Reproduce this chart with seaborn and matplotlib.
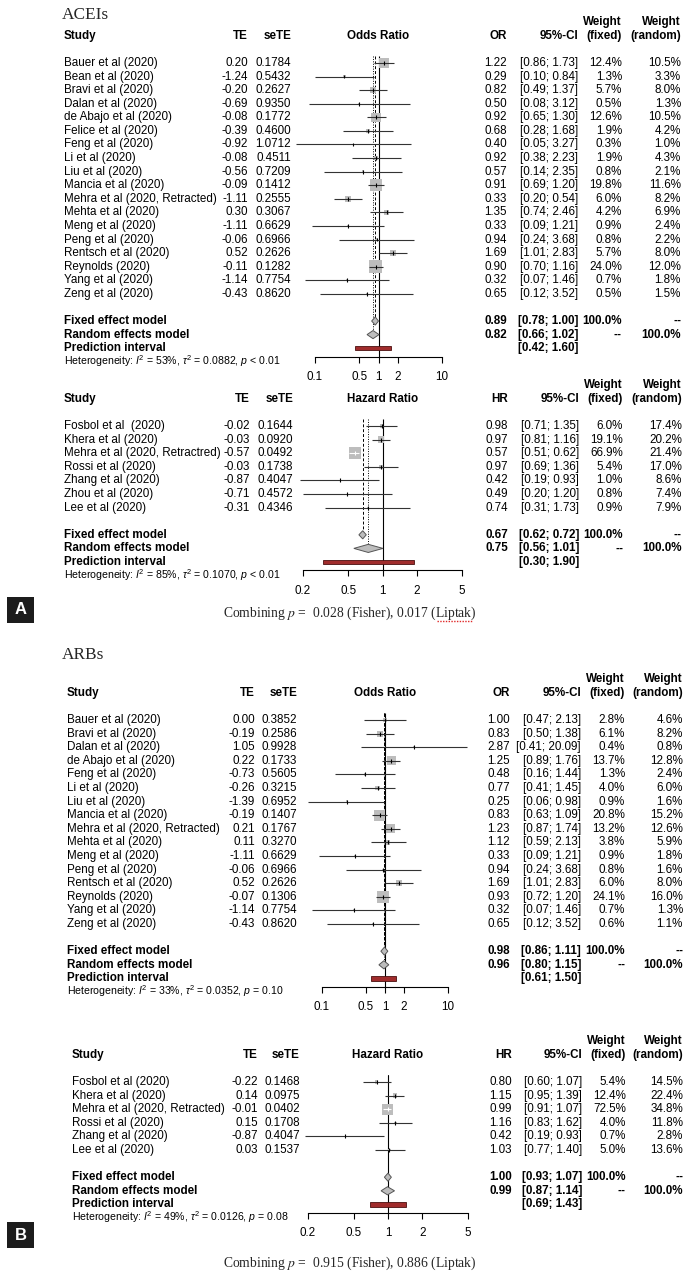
import matplotlib
matplotlib.use("Agg")
import matplotlib.pyplot as plt
import matplotlib.transforms as mtransforms
from matplotlib.patches import Rectangle
from matplotlib.lines import Line2D
from matplotlib.ticker import NullLocator
import numpy as np
import pandas as pd
import seaborn as sns

W, H = 691, 1280

# ---------------- ACEIs, odds ratio ----------------
acei_or_study = ["Bauer et al (2020)", "Bean et al (2020)", "Bravi et al (2020)", "Dalan et al (2020)",
                 "de Abajo et al (2020)", "Felice et al (2020)", "Feng et al (2020)", "Li et al (2020)",
                 "Liu et al (2020)", "Mancia et al (2020)", "Mehra et al (2020, Retracted)", "Mehta et al (2020)",
                 "Meng et al (2020)", "Peng et al (2020)", "Rentsch et al (2020)", "Reynolds (2020)",
                 "Yang et al (2020)", "Zeng et al (2020)"]
acei_or_te = [0.20, -1.24, -0.20, -0.69, -0.08, -0.39, -0.92, -0.08, -0.56, -0.09, -1.11, 0.30, -1.11, -0.06,
              0.52, -0.11, -1.14, -0.43]
acei_or_sete = [0.1784, 0.5432, 0.2627, 0.9350, 0.1772, 0.4600, 1.0712, 0.4511, 0.7209, 0.1412, 0.2555, 0.3067,
                0.6629, 0.6966, 0.2626, 0.1282, 0.7754, 0.8620]
acei_or_est = [1.22, 0.29, 0.82, 0.50, 0.92, 0.68, 0.40, 0.92, 0.57, 0.91, 0.33, 1.35, 0.33, 0.94, 1.69, 0.90,
               0.32, 0.65]
acei_or_lo = [0.86, 0.10, 0.49, 0.08, 0.65, 0.28, 0.05, 0.38, 0.14, 0.69, 0.20, 0.74, 0.09, 0.24, 1.01, 0.70,
              0.07, 0.12]
acei_or_hi = [1.73, 0.84, 1.37, 3.12, 1.30, 1.68, 3.27, 2.23, 2.35, 1.20, 0.54, 2.46, 1.21, 3.68, 2.83, 1.16,
              1.46, 3.52]
acei_or_wf = [12.4, 1.3, 5.7, 0.5, 12.6, 1.9, 0.3, 1.9, 0.8, 19.8, 6.0, 4.2, 0.9, 0.8, 5.7, 24.0, 0.7, 0.5]
acei_or_wr = [10.5, 3.3, 8.0, 1.3, 10.5, 4.2, 1.0, 4.3, 2.1, 11.6, 8.2, 6.9, 2.4, 2.2, 8.0, 12.0, 1.8, 1.5]
acei_or_fixed = [0.89, 0.78, 1.00]
acei_or_random = [0.82, 0.66, 1.02]
acei_or_pred = [0.42, 1.60]
acei_or_het = ["53", "0.0882", "< 0.01"]
or_ticks = [0.1, 0.5, 1, 2, 10]

# ---------------- ACEIs, hazard ratio ----------------
acei_hr_study = ["Fosbol et al  (2020)", "Khera et al (2020)", "Mehra et al (2020, Retractred)",
                 "Rossi et al (2020)", "Zhang et al (2020)", "Zhou et al (2020)", "Lee et al (2020)"]
acei_hr_te = [-0.02, -0.03, -0.57, -0.03, -0.87, -0.71, -0.31]
acei_hr_sete = [0.1644, 0.0920, 0.0492, 0.1738, 0.4047, 0.4572, 0.4346]
acei_hr_est = [0.98, 0.97, 0.57, 0.97, 0.42, 0.49, 0.74]
acei_hr_lo = [0.71, 0.81, 0.51, 0.69, 0.19, 0.20, 0.31]
acei_hr_hi = [1.35, 1.16, 0.62, 1.36, 0.93, 1.20, 1.73]
acei_hr_wf = [6.0, 19.1, 66.9, 5.4, 1.0, 0.8, 0.9]
acei_hr_wr = [17.4, 20.2, 21.4, 17.0, 8.6, 7.4, 7.9]
acei_hr_fixed = [0.67, 0.62, 0.72]
acei_hr_random = [0.75, 0.56, 1.01]
acei_hr_pred = [0.30, 1.90]
acei_hr_het = ["85", "0.1070", "< 0.01"]
hr_ticks = [0.2, 0.5, 1, 2, 5]
acei_combining = ["0.028", "0.017"]

# ---------------- ARBs, odds ratio ----------------
arb_or_study = ["Bauer et al (2020)", "Bravi et al (2020)", "Dalan et al (2020)", "de Abajo et al (2020)",
                "Feng et al (2020)", "Li et al (2020)", "Liu et al (2020)", "Mancia et al (2020)",
                "Mehra et al (2020, Retracted)", "Mehta et al (2020)", "Meng et al (2020)", "Peng et al (2020)",
                "Rentsch et al (2020)", "Reynolds (2020)", "Yang et al (2020)", "Zeng et al (2020)"]
arb_or_te = [0.00, -0.19, 1.05, 0.22, -0.73, -0.26, -1.39, -0.19, 0.21, 0.11, -1.11, -0.06, 0.52, -0.07,
             -1.14, -0.43]
arb_or_sete = [0.3852, 0.2586, 0.9928, 0.1733, 0.5605, 0.3215, 0.6952, 0.1407, 0.1767, 0.3270, 0.6629, 0.6966,
               0.2626, 0.1306, 0.7754, 0.8620]
arb_or_est = [1.00, 0.83, 2.87, 1.25, 0.48, 0.77, 0.25, 0.83, 1.23, 1.12, 0.33, 0.94, 1.69, 0.93, 0.32, 0.65]
arb_or_lo = [0.47, 0.50, 0.41, 0.89, 0.16, 0.41, 0.06, 0.63, 0.87, 0.59, 0.09, 0.24, 1.01, 0.72, 0.07, 0.12]
arb_or_hi = [2.13, 1.38, 20.09, 1.76, 1.44, 1.45, 0.98, 1.09, 1.74, 2.13, 1.21, 3.68, 2.83, 1.20, 1.46, 3.52]
arb_or_wf = [2.8, 6.1, 0.4, 13.7, 1.3, 4.0, 0.9, 20.8, 13.2, 3.8, 0.9, 0.8, 6.0, 24.1, 0.7, 0.6]
arb_or_wr = [4.6, 8.2, 0.8, 12.8, 2.4, 6.0, 1.6, 15.2, 12.6, 5.9, 1.8, 1.6, 8.0, 16.0, 1.3, 1.1]
arb_or_fixed = [0.98, 0.86, 1.11]
arb_or_random = [0.96, 0.80, 1.15]
arb_or_pred = [0.61, 1.50]
arb_or_het = ["33", "0.0352", "= 0.10"]

# ---------------- ARBs, hazard ratio ----------------
arb_hr_study = ["Fosbol et al (2020)", "Khera et al (2020)", "Mehra et al (2020, Retracted)",
                "Rossi et al (2020)", "Zhang et al (2020)", "Lee et al (2020)"]
arb_hr_te = [-0.22, 0.14, -0.01, 0.15, -0.87, 0.03]
arb_hr_sete = [0.1468, 0.0975, 0.0402, 0.1708, 0.4047, 0.1537]
arb_hr_est = [0.80, 1.15, 0.99, 1.16, 0.42, 1.03]
arb_hr_lo = [0.60, 0.95, 0.91, 0.83, 0.19, 0.77]
arb_hr_hi = [1.07, 1.39, 1.07, 1.62, 0.93, 1.40]
arb_hr_wf = [5.4, 12.4, 72.5, 4.0, 0.7, 5.0]
arb_hr_wr = [14.5, 22.4, 34.8, 11.8, 2.8, 13.6]
arb_hr_fixed = [1.00, 0.93, 1.07]
arb_hr_random = [0.99, 0.87, 1.14]
arb_hr_pred = [0.69, 1.43]
arb_hr_het = ["49", "0.0126", "= 0.08"]
arb_combining = ["0.915", "0.886"]

sns.set_theme(style="white")
plt.rcParams["font.family"] = ["Liberation Sans", "DejaVu Sans"]
plt.rcParams["mathtext.fontset"] = "custom"
plt.rcParams["mathtext.rm"] = "Liberation Sans"
plt.rcParams["mathtext.it"] = "Liberation Sans:italic"
plt.rcParams["mathtext.bf"] = "Liberation Sans:bold"

FS = 8.4
SQ_COL = "#bdbdbd"
LINE_COL = "#333333"

fig = plt.figure(figsize=(W / 100, H / 100), dpi=100)
fig.patch.set_facecolor("white")


def draw_panel(lay, study, te, sete, est, lo, hi, wf, wr, fixed, random, pred, het, ticks, measure, short):
    n = len(study)
    rows = np.arange(n)
    r_fix, r_ran, r_pre = n + 1, n + 2, n + 3
    r_axis = r_pre + 0.62
    r_het = r_pre + 0.97
    r_top, r_bot = -3.6, r_pre + 2.8
    y0, step = lay["y0"], lay["step"]
    top_px, bot_px = y0 + r_top * step, y0 + r_bot * step
    lt0, lt1 = np.log10(ticks[0]), np.log10(ticks[-1])
    ppd = (lay["x1"] - lay["x0"]) / (lt1 - lt0)
    ext = 0.7
    left_px = lay["x0"] - ext * ppd
    width_px = (lay["x1"] - lay["x0"]) + 2 * ext * ppd
    ax = fig.add_axes([left_px / W, 1 - bot_px / H, width_px / W, (bot_px - top_px) / H])
    ax.patch.set_alpha(0)

    # squares (area ~ fixed weight)
    smax = (lay["sq"] * 0.72) ** 2
    df = pd.DataFrame({"est": est, "row": rows, "w": wf})
    sns.scatterplot(data=df, x="est", y="row", size="w", sizes=(0, smax), size_norm=(0, max(wf)),
                    marker="s", color=SQ_COL, linewidth=0, legend=False, ax=ax, zorder=2)
    ax.set_xscale("log")

    # confidence intervals, white when hidden inside the square
    side_px = np.sqrt(smax * np.array(wf) / max(wf)) / 0.72
    ci_px = (np.log10(hi) - np.log10(lo)) * ppd
    ci_cols = ["white" if c < s else LINE_COL for c, s in zip(ci_px, side_px)]
    ax.hlines(rows, lo, hi, colors=ci_cols, lw=0.8, zorder=3)
    ax.vlines(est, rows - 0.14, rows + 0.14, colors=["white" if c == "white" else "black" for c in ci_cols],
              lw=0.8, zorder=4)

    # reference lines
    ax.vlines(1, -0.5, r_axis, colors="black", lw=0.8, zorder=1)
    ax.vlines(fixed[0], -0.5, r_fix - 0.3, colors="black", lw=0.7, linestyles=(0, (3, 2)), zorder=1)
    ax.vlines(random[0], -0.5, r_ran - 0.3, colors="black", lw=0.7, linestyles=(0, (1, 1.5)), zorder=1)

    # pooled diamonds
    hh = 0.3
    for (e, l, h), r in [(fixed, r_fix), (random, r_ran)]:
        ax.fill([l, e, h, e], [r, r - hh, r, r + hh], facecolor=SQ_COL, edgecolor="#555555", lw=0.7, zorder=5)
    # prediction interval
    ax.fill([pred[0], pred[1], pred[1], pred[0]], [r_pre - 0.16, r_pre - 0.16, r_pre + 0.16, r_pre + 0.16],
            facecolor="#a02c2c", edgecolor="#4a1010", lw=0.6, zorder=5)

    ax.set_xlim(10 ** (lt0 - ext), 10 ** (lt1 + ext))
    ax.set_ylim(r_bot, r_top)
    ax.set_xlabel("")
    ax.set_ylabel("")
    ax.set_yticks([])
    for s in ["top", "left", "right"]:
        ax.spines[s].set_visible(False)
    ax.spines["bottom"].set_position(("data", r_axis))
    ax.spines["bottom"].set_bounds(ticks[0], ticks[-1])
    ax.spines["bottom"].set_color("black")
    ax.spines["bottom"].set_linewidth(0.8)
    ax.set_xticks(ticks)
    ax.set_xticklabels([f"{t:g}" for t in ticks])
    ax.xaxis.set_minor_locator(NullLocator())
    ax.tick_params(axis="x", direction="out", length=4.5, width=0.8, pad=6, labelsize=FS, colors="black",
                   bottom=True)

    tr = mtransforms.blended_transform_factory(fig.transFigure, ax.transData)

    def put(xpx, r, s, ha="right", bold=False, size=FS, **kw):
        ax.text(xpx / W, r, s, transform=tr, ha=ha, va="center", fontsize=size,
                fontweight="bold" if bold else "normal", color="black", **kw)

    # header
    put(lay["wf"], -3, "Weight", bold=True)
    put(lay["wr"], -3, "Weight", bold=True)
    put(lay["study"], -2, "Study", ha="left", bold=True)
    put(lay["te"], -2, "TE", bold=True)
    put(lay["sete"], -2, "seTE", bold=True)
    put((lay["x0"] + lay["x1"]) / 2, -2, measure, ha="center", bold=True)
    put(lay["est"], -2, short, bold=True)
    put(lay["ci"], -2, "95%-CI", bold=True)
    put(lay["wf"], -2, "(fixed)", bold=True)
    put(lay["wr"], -2, "(random)", bold=True)

    for i in range(n):
        put(lay["study"], i, study[i], ha="left")
        put(lay["te"], i, f"{te[i]:.2f}")
        put(lay["sete"], i, f"{sete[i]:.4f}")
        put(lay["est"], i, f"{est[i]:.2f}")
        put(lay["ci"], i, f"[{lo[i]:.2f}; {hi[i]:.2f}]")
        put(lay["wf"], i, f"{wf[i]:.1f}%")
        put(lay["wr"], i, f"{wr[i]:.1f}%")

    put(lay["study"], r_fix, "Fixed effect model", ha="left", bold=True)
    put(lay["est"], r_fix, f"{fixed[0]:.2f}", bold=True)
    put(lay["ci"], r_fix, f"[{fixed[1]:.2f}; {fixed[2]:.2f}]", bold=True)
    put(lay["wf"], r_fix, "100.0%", bold=True)
    put(lay["wr"], r_fix, "--", bold=True)
    put(lay["study"], r_ran, "Random effects model", ha="left", bold=True)
    put(lay["est"], r_ran, f"{random[0]:.2f}", bold=True)
    put(lay["ci"], r_ran, f"[{random[1]:.2f}; {random[2]:.2f}]", bold=True)
    put(lay["wf"], r_ran, "--", bold=True)
    put(lay["wr"], r_ran, "100.0%", bold=True)
    put(lay["study"], r_pre, "Prediction interval", ha="left", bold=True)
    put(lay["ci"], r_pre, f"[{pred[0]:.2f}; {pred[1]:.2f}]", bold=True)
    put(lay["study"], r_het,
        rf"Heterogeneity: $I^2$ = {het[0]}%, $\tau^2$ = {het[1]}, $p$ {het[2]}",
        ha="left", size=7.6, math_fontfamily="custom")
    return ax


lay_a1 = dict(y0=63, step=13.58, x0=315, x1=442, study=64, te=248, sete=291, est=507, ci=578, wf=622, wr=681,
              sq=13)
lay_a2 = dict(y0=426, step=13.6, x0=303, x1=462, study=64, te=250, sete=293, est=508, ci=579, wf=623, wr=682,
              sq=12)
lay_b1 = dict(y0=720, step=13.6, x0=322, x1=448, study=67, te=255, sete=297, est=510, ci=581, wf=625, wr=683,
              sq=12)
lay_b2 = dict(y0=1082, step=13.6, x0=308, x1=468, study=72, te=258, sete=300, est=512, ci=582, wf=626, wr=683,
              sq=11)

draw_panel(lay_a1, acei_or_study, acei_or_te, acei_or_sete, acei_or_est, acei_or_lo, acei_or_hi, acei_or_wf,
           acei_or_wr, acei_or_fixed, acei_or_random, acei_or_pred, acei_or_het, or_ticks, "Odds Ratio", "OR")
draw_panel(lay_a2, acei_hr_study, acei_hr_te, acei_hr_sete, acei_hr_est, acei_hr_lo, acei_hr_hi, acei_hr_wf,
           acei_hr_wr, acei_hr_fixed, acei_hr_random, acei_hr_pred, acei_hr_het, hr_ticks, "Hazard Ratio", "HR")
draw_panel(lay_b1, arb_or_study, arb_or_te, arb_or_sete, arb_or_est, arb_or_lo, arb_or_hi, arb_or_wf,
           arb_or_wr, arb_or_fixed, arb_or_random, arb_or_pred, arb_or_het, or_ticks, "Odds Ratio", "OR")
draw_panel(lay_b2, arb_hr_study, arb_hr_te, arb_hr_sete, arb_hr_est, arb_hr_lo, arb_hr_hi, arb_hr_wf,
           arb_hr_wr, arb_hr_fixed, arb_hr_random, arb_hr_pred, arb_hr_het, hr_ticks, "Hazard Ratio", "HR")

# drug class titles
fig.text(62 / W, 1 - 15 / H, "ACEIs", family="Liberation Serif", fontsize=12.4, ha="left", va="center")
fig.text(62 / W, 1 - 655 / H, "ARBs", family="Liberation Serif", fontsize=12.4, ha="left", va="center")

# combined p values
comb_texts = []
for ypx, vals in [(613, acei_combining), (1263, arb_combining)]:
    t = fig.text(350 / W, 1 - ypx / H, rf"Combining $p$ =  {vals[0]} (Fisher), {vals[1]} (Liptak)",
                 family="Liberation Serif", math_fontfamily="stix", fontsize=9.8, ha="center", va="center")
    comb_texts.append(t)

# spell-check squiggle under "Liptak" in panel A
renderer = fig.canvas.get_renderer()
bb = comb_texts[0].get_window_extent(renderer)
probe = fig.text(0, 0, "Liptak)", family="Liberation Serif", fontsize=9.8)
w_word = probe.get_window_extent(renderer).width
probe.set_text(")")
w_par = probe.get_window_extent(renderer).width
probe.remove()
x_end = bb.x1 - w_par
x_start = bb.x1 - w_word
y_line = bb.y0 + 1
fig.add_artist(Line2D([x_start / W, x_end / W], [y_line / H, y_line / H], transform=fig.transFigure,
                      color="#e02828", lw=1.0, linestyle=(0, (1, 1))))

# panel letters
for letter, yc in [("A", 610), ("B", 1235)]:
    fig.patches.append(Rectangle((7 / W, 1 - (yc + 13) / H), 27 / W, 26 / H, transform=fig.transFigure,
                                 facecolor="#1c1c1c", edgecolor="none"))
    fig.text(20.5 / W, 1 - yc / H, letter, color="white", fontweight="bold", fontsize=12, ha="center",
             va="center")

fig.savefig("out.png", dpi=100, facecolor="white")
